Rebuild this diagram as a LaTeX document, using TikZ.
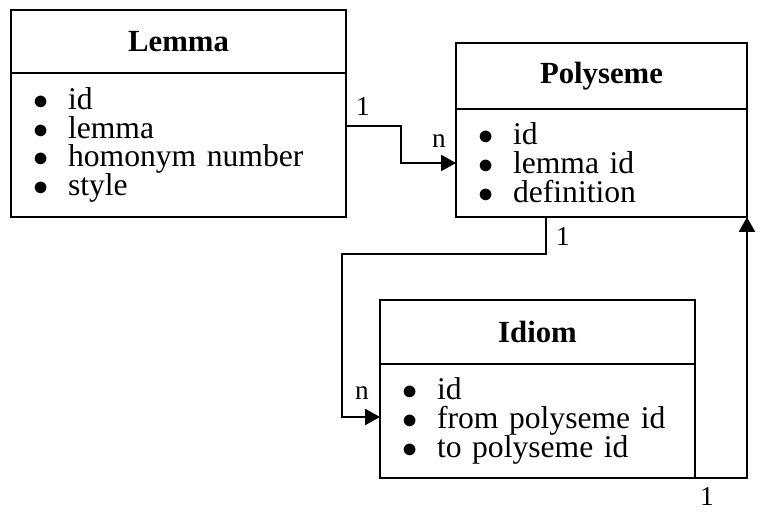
\documentclass[tikz,border=0pt]{standalone}
\usepackage{fontspec}
\setmainfont{Liberation Serif}
\usetikzlibrary{positioning,arrows.meta}
\newcommand{\bitem}[1]{\makebox[0.7cm][l]{$\bullet$}#1}
\tikzset{
  head/.style={draw, line width=1.6pt, outer sep=0pt, inner sep=0pt,
    font=\fontsize{17.5}{19}\selectfont\bfseries},
  body/.style={draw, line width=1.6pt, outer sep=0pt, inner xsep=0.44cm, inner ysep=0pt,
    align=left, font=\fontsize{18}{16.4}\selectfont},
  lbl/.style={inner sep=0pt, font=\fontsize{15.5}{16}\selectfont},
}
\begin{document}
\begin{tikzpicture}[x=0.02cm, y=-0.02cm, >={Triangle[length=8.5pt,width=9pt]}, line width=1.6pt]
\useasboundingbox (0,0) rectangle (764,513);
% entities
\node[head, minimum width=6.7cm, minimum height=1.26cm] (lemmaH) at (178.5,41.5) {Lemma};
\node[body, minimum width=6.7cm, minimum height=2.88cm, text width=5.82cm, below=0pt of lemmaH] (lemmaB)
  {\bitem{id}\\ \bitem{lemma}\\ \bitem{homonym number}\\ \bitem{style}};
\node[head, minimum width=5.82cm, minimum height=1.32cm] (polyH) at (601.5,76) {Polyseme};
\node[body, minimum width=5.82cm, minimum height=2.16cm, text width=4.94cm, below=0pt of polyH] (polyB)
  {\bitem{id}\\ \bitem{lemma id}\\ \bitem{definition}};
\node[head, minimum width=6.3cm, minimum height=1.28cm] (idiomH) at (537.5,332) {Idiom};
\node[body, minimum width=6.3cm, minimum height=2.28cm, text width=5.42cm, below=0pt of idiomH] (idiomB)
  {\bitem{id}\\ \bitem{from polyseme id}\\ \bitem{to polyseme id}};
% relations
\draw[->] ([yshift=0.38cm]lemmaB.east) -- ++(1.1cm,0) |- (polyB.west);
\draw[->] ([xshift=-1.11cm]polyB.south) -- ++(0,-0.74cm) -- ++(-4.08cm,0) |- ([yshift=0.08cm]idiomB.west);
\draw[->] (idiomB.south east) -| (polyB.south east);
\node[lbl] (c1) at (363,107) {1};
\node[lbl] (c2) at (439,141) {n};
\node[lbl] (c3) at (563,237) {1};
\node[lbl] (c4) at (362,393) {n};
\node[lbl] (c5) at (707,497) {1};
\node[lbl, anchor=west] (c6) at (761,228) {1};
\end{tikzpicture}
\end{document}
